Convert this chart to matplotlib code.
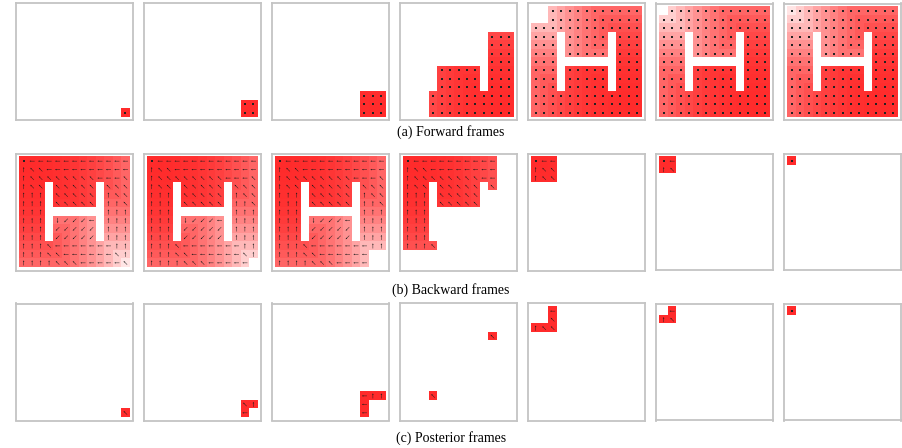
import numpy as np
import matplotlib.pyplot as plt

# time steps shown in the 7 columns, horizon of the episode
T_STEPS = [0, 1, 2, 9, 17, 18, 19]
HORIZON = 19

# steps from the goal cell (bottom right), -1 = wall (H shaped)
GOAL_DIST = [
    [19, 18, 17, 16, 15, 14, 13, 12, 12, 12, 12, 12, 12],
    [18, 18, 17, 16, 15, 14, 13, 12, 11, 11, 11, 11, 11],
    [17, 17, 17, 16, 15, 14, 13, 12, 11, 10, 10, 10, 10],
    [16, 16, 16, -1, 15, 14, 13, 12, 11, -1, 9, 9, 9],
    [15, 15, 15, -1, 15, 14, 13, 12, 12, -1, 8, 8, 8],
    [14, 14, 14, -1, 15, 14, 13, 13, 13, -1, 7, 7, 7],
    [13, 13, 13, -1, -1, -1, -1, -1, -1, -1, 6, 6, 6],
    [12, 12, 12, -1, 8, 7, 6, 6, 6, -1, 5, 5, 5],
    [12, 11, 11, -1, 8, 7, 6, 5, 5, -1, 4, 4, 4],
    [12, 11, 10, -1, 8, 7, 6, 5, 4, -1, 3, 3, 3],
    [12, 11, 10, 9, 8, 7, 6, 5, 4, 3, 2, 2, 2],
    [12, 11, 10, 9, 8, 7, 6, 5, 4, 3, 2, 1, 1],
    [12, 11, 10, 9, 8, 7, 6, 5, 4, 3, 2, 1, 0],
]

# arrows of the backward policy: L left, U up, Q up-left, Z down-left, D down, . none
POLICY = [
    ".LLLLLLLLLLLL",
    "UQQLLLLLLLLLL",
    "UQQQQQQQQLLLQ",
    "UQQ#QQQQQ#QQQ",
    "UUU#QQQQQ#UQQ",
    "UUU#QQQQQ#UUQ",
    "UUU#######UUU",
    "UUU#DZZZL#UUU",
    "UUU#ZZZZZ#UUU",
    "UUU#ZZZZZ#UUU",
    "UUUQLLLLLLLUU",
    "UUUQQLLLLLLQU",
    "UUUUQQQLLLLLQ",
]

CAPTIONS = ["(a) Forward frames", "(b) Backward frames", "(c) Posterior frames"]

dist = np.array(GOAL_DIST)
wall = dist < 0
dist0 = dist[::-1, ::-1]  # maze is symmetric, so this is the distance from the start cell
n = dist.shape[0]

RED = np.array([1.0, 0.17, 0.17])
ARROW = {'L': (-1, 0), 'U': (0, -1), 'Q': (-1, -1), 'Z': (-1, 1), 'D': (0, 1)}

def shade(mask, d, full=False):
    a = 1 - 0.88 * (np.clip(d, 0, None) / HORIZON) ** 2.5
    if full:
        a = np.ones_like(a, dtype=float)
    a = np.where(mask, a, 0.0)[..., None]
    return (1 - a) * np.ones((n, n, 3)) + a * RED

fig = plt.figure(figsize=(9.02, 4.48), dpi=100)
ROW_TOP = [3, 153, 303]
CAP_Y = [132, 290, 438]

for row in range(3):
    for k, t in enumerate(T_STEPS):
        ax = fig.add_axes([(16 + 128 * k) / 902, (448 - ROW_TOP[row] - 118) / 448,
                           117 / 902, 118 / 448])
        if row == 0:
            mask = (~wall) & (dist <= t)
            img = shade(mask, dist)
        elif row == 1:
            mask = (~wall) & (dist0 <= HORIZON - t)
            img = shade(mask, dist0)
        else:
            mask = (dist == t) & (dist0 == HORIZON - t)
            img = shade(mask, dist0, full=True)
        ax.imshow(img, interpolation='nearest', extent=(-0.5, n - 0.5, n - 0.5, -0.5))

        rr, cc = np.nonzero(mask)
        if row == 0:
            ax.scatter(cc, rr, s=2.2, c='#222222', marker='s', linewidths=0)
        else:
            xs, ys, us, vs, dx, dy = [], [], [], [], [], []
            for r, c in zip(rr, cc):
                ch = POLICY[r][c]
                if ch in ARROW:
                    u, v = ARROW[ch]
                    l = np.hypot(u, v)
                    xs.append(c); ys.append(r)
                    us.append(0.6 * u / l); vs.append(0.6 * v / l)
                else:
                    dx.append(c); dy.append(r)
            if xs:
                ax.quiver(xs, ys, us, vs, angles='xy', scale_units='xy', scale=1,
                          pivot='middle', units='xy', width=0.055, headwidth=3.4,
                          headlength=3.4, headaxislength=3.0, color='#1a1a1a')
            if dx:
                ax.scatter(dx, dy, s=2.2, c='#222222', marker='s', linewidths=0)

        ax.set_xlim(-0.9, n - 0.1)
        ax.set_ylim(n - 0.1, -0.9)
        ax.set_xticks([])
        ax.set_yticks([])
        for sp in ax.spines.values():
            sp.set_color('#c4c4c4')
            sp.set_linewidth(1.3)

    fig.text(0.5, 1 - CAP_Y[row] / 448, CAPTIONS[row], ha='center', va='center',
             family='Liberation Serif', fontsize=10)

fig.savefig('out.png', dpi=100)
